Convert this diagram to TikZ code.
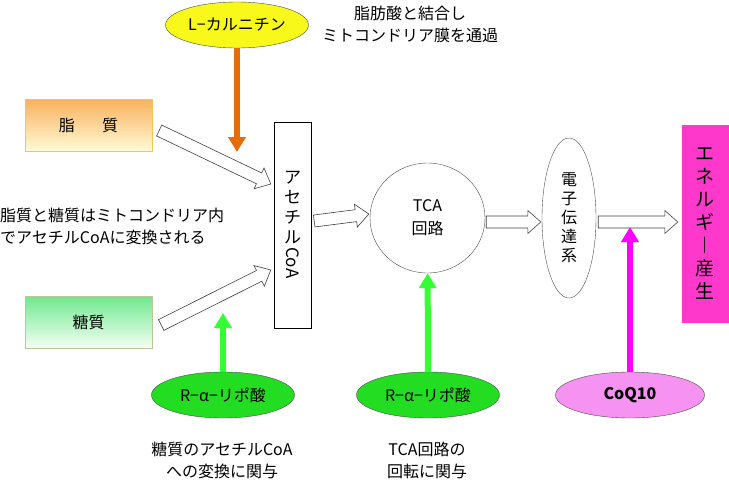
\documentclass[tikz,border=0pt]{standalone}
\usepackage{fontspec}
\setmainfont{Noto Sans CJK JP}
\usetikzlibrary{arrows.meta}
\usetikzlibrary{calc}
\usetikzlibrary{positioning}
\usetikzlibrary{shapes.geometric}

\definecolor{carnyellow}{HTML}{F8F81A}
\definecolor{carnorange}{HTML}{E46C0A}
\definecolor{lipidtop}{HTML}{F9B25E}
\definecolor{lipidbot}{HTML}{FFFBD8}
\definecolor{lipidline}{HTML}{F2C45A}
\definecolor{sugartop}{HTML}{6EE88E}
\definecolor{sugarbot}{HTML}{F4FFF4}
\definecolor{sugarline}{HTML}{B8C89A}
\definecolor{lipoic}{HTML}{22DD22}
\definecolor{lipoicarrow}{HTML}{33FF33}
\definecolor{coqfill}{HTML}{F592F2}
\definecolor{coqarrow}{HTML}{FF00FF}
\definecolor{energy}{HTML}{FF38CC}

% hollow block arrow between two named points
\newcommand{\hollowarrow}[2]{%
	\draw [hollow] let \p1=($(#2)-(#1)$), \n1={atan2(\y1,\x1)}, \n2={veclen(\x1,\y1)} in
		[shift={(#1)},rotate=\n1]
		(0,-6) -- ({\n2-13},-6) -- ({\n2-13},-11.5) -- (\n2,0)
		-- ({\n2-13},11.5) -- ({\n2-13},6) -- (0,6) -- cycle;}

\begin{document}
\begin{tikzpicture}[
		x=1pt,y=-1pt,
		every node/.style={font=\fontsize{16}{22}\selectfont},
		hollow/.style={draw=black!75,fill=white,line width=0.6pt,line join=miter},
		source/.style={draw,rectangle,inner sep=0pt,minimum width=127pt,minimum height=52pt},
		pill/.style={draw=black!70,ellipse,inner sep=0pt,minimum width=143pt,minimum height=46pt},
		feed/.style={line width=6pt,-{Triangle[length=15pt,width=17pt]}},
		note/.style={align=center,inner sep=0pt}
	]
		\useasboundingbox (0,0) rectangle (729,482);

		\node [pill,fill=carnyellow] (carnitine) at (237,25) {L−カルニチン};
		\node [note] (carnnote) at (410,24) {脂肪酸と結合し\\ミトコンドリア膜を通過};

		\node [source,draw=lipidline,top color=lipidtop,bottom color=lipidbot] (lipid) at (88.5,125.5) {脂\hspace{1.7em}質};
		\node [source,draw=sugarline,top color=sugartop,bottom color=sugarbot] (sugar) at (88.5,322) {糖質};
		\node [note,align=left,anchor=west] (convnote) at (0,226) {脂質と糖質はミトコンドリア内\\でアセチルCoAに変換される};

		\node [draw,rectangle,inner sep=0pt,minimum width=37pt,minimum height=206pt,align=center,font=\fontsize{17}{20}\selectfont] (acetyl) at (292.5,225)
			{ア\\セ\\チ\\ル\\[2pt]\rotatebox[origin=c]{-90}{CoA}};
		\node [draw=black!70,ellipse,inner sep=0pt,minimum width=115pt,minimum height=110pt,align=center,font=\fontsize{16}{23}\selectfont] (tca) at (427.5,218) {TCA\\回路};
		\node [draw=black!70,ellipse,inner sep=0pt,minimum width=54pt,minimum height=160pt,align=center,font=\fontsize{16}{19}\selectfont] (etc) at (569,218) {電\\子\\伝\\達\\系};
		\node [draw=energy,fill=energy,rectangle,inner sep=0pt,minimum width=46pt,minimum height=197pt,align=center,font=\fontsize{19}{23}\selectfont] (energy) at (705,223.5)
			{エ\\ネ\\ル\\ギ\\︱\\産\\生};

		\node [pill,fill=lipoic] (lipoicA) at (223,395) {R−α−リポ酸};
		\node [pill,fill=lipoic] (lipoicB) at (428,395) {R−α−リポ酸};
		\node [pill,fill=coqfill,minimum width=149pt] (coq) at (630,395) {\bfseries CoQ10};
		\node [note] (lipoicnoteA) at (222,460) {糖質のアセチルCoA\\への変換に関与};
		\node [note] (lipoicnoteB) at (427,460) {TCA回路の\\回転に関与};

		% block arrows along the pathway
		\coordinate (lipidout) at ($(lipid.east)+(7,5)$);
		\coordinate (lipidin) at ($(acetyl.west)+(-3,-41)$);
		\coordinate (sugarout) at ($(sugar.east)+(9,3)$);
		\coordinate (sugarin) at ($(acetyl.west)+(-3,45)$);
		\coordinate (acetylout) at ($(acetyl.east)+(3,-4)$);
		\coordinate (tcain) at ($(tca.west)+(-1,-4)$);
		\coordinate (tcaout) at ($(tca.east)+(1,4)$);
		\coordinate (etcin) at ($(etc.west)+(-1,4)$);
		\coordinate (etcout) at ($(etc.east)+(2,4)$);
		\coordinate (energyin) at ($(energy.west)+(-4,-1.5)$);
		\hollowarrow{lipidout}{lipidin}
		\hollowarrow{sugarout}{sugarin}
		\hollowarrow{acetylout}{tcain}
		\hollowarrow{tcaout}{etcin}
		\hollowarrow{etcout}{energyin}

		% supporting nutrients
		\coordinate (carnin) at (237,152);
		\coordinate (lipoicin) at (223,313);
		\coordinate (coqin) at (630,227);
		\draw [feed,carnorange] (carnitine) -- (carnin);
		\draw [feed,lipoicarrow] (lipoicA) -- (lipoicin);
		\draw [feed,lipoicarrow] (lipoicB) -- (tca);
		\draw [feed,coqarrow] (coq) -- (coqin);
	\end{tikzpicture}
\end{document}
